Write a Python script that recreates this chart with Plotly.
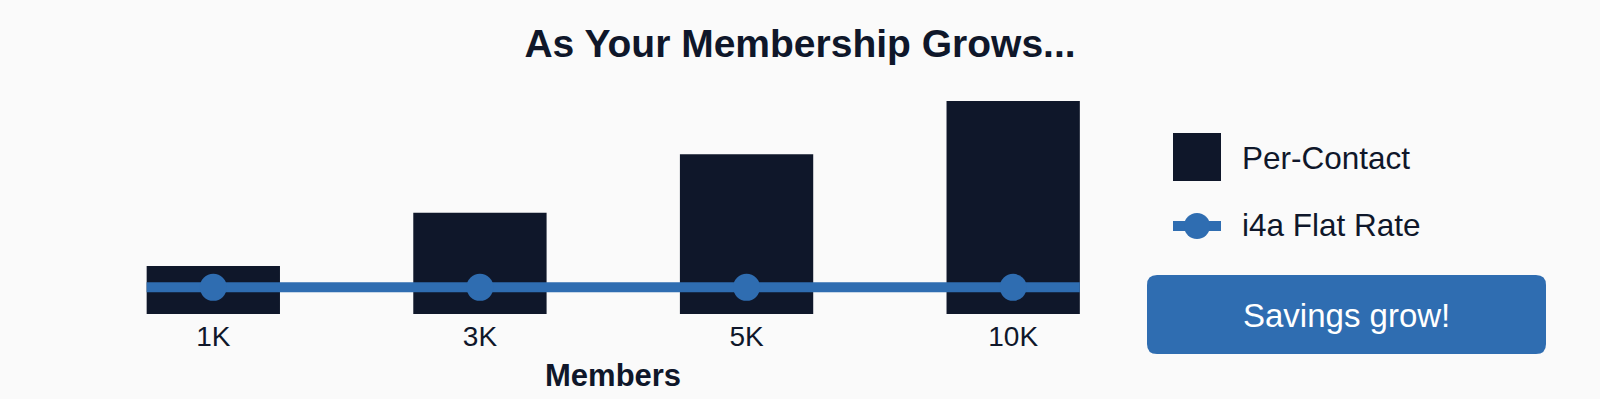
import plotly.graph_objects as go

# ---- data ----
categories = ["1K", "3K", "5K", "10K"]
per_contact = [450, 950, 1500, 2000]
flat_rate = [250, 250, 250, 250]
series_names = ["Per-Contact", "i4a Flat Rate"]
title_text = "As Your Membership Grows..."
x_title = "Members"
callout_text = "Savings grow!"

# ---- style ----
W, H = 1600, 399
NAVY = "#0f172a"
BLUE = "#2f6db1"
BG = "#fafafa"
FONT = "Liberation Sans, Arial, Helvetica, sans-serif"
BAR_W = 0.5


def px(x):
    return x / W


def py(y):
    return (H - y) / H


idx = list(range(len(categories)))

fig = go.Figure()
fig.add_trace(go.Bar(
    x=idx, y=per_contact, name=series_names[0], width=BAR_W,
    marker=dict(color=NAVY, line=dict(width=0)), showlegend=False,
))

# flat-rate line extended to the outer bar edges, markers on categories
line_x = [idx[0] - BAR_W / 2] + idx + [idx[-1] + BAR_W / 2]
line_y = [flat_rate[0]] + flat_rate + [flat_rate[-1]]
sizes = [0] + [27] * len(idx) + [0]
fig.add_trace(go.Scatter(
    x=line_x, y=line_y, name=series_names[1], mode="lines+markers",
    opacity=1,
    line=dict(color=BLUE, width=10),
    marker=dict(color=BLUE, size=sizes, opacity=1, line=dict(width=0, color=BLUE)),
    showlegend=False,
))

shapes = []
annotations = []

# legend: Per-Contact square
shapes.append(dict(type="rect", xref="paper", yref="paper",
                   x0=px(1173), x1=px(1221), y0=py(181), y1=py(133),
                   fillcolor=NAVY, line=dict(width=0), layer="above"))
annotations.append(dict(xref="paper", yref="paper", x=px(1240), y=py(158),
                        xanchor="left", yanchor="middle", showarrow=False,
                        text=series_names[0], font=dict(size=31.5, color=NAVY, family=FONT)))
# legend: flat rate line + marker
shapes.append(dict(type="rect", xref="paper", yref="paper",
                   x0=px(1173), x1=px(1221), y0=py(231), y1=py(221),
                   fillcolor=BLUE, line=dict(width=0), layer="above"))
shapes.append(dict(type="circle", xref="paper", yref="paper",
                   x0=px(1184), x1=px(1210), y0=py(239), y1=py(213),
                   fillcolor=BLUE, line=dict(width=0), layer="above"))
annotations.append(dict(xref="paper", yref="paper", x=px(1240), y=py(225),
                        xanchor="left", yanchor="middle", showarrow=False,
                        text=series_names[1], font=dict(size=31.5, color=NAVY, family=FONT)))

# callout button with rounded corners
bx0, bx1, by0, by1, r = 1147, 1546, 275, 354, 10
path = (
    f"M {px(bx0 + r)} {py(by0)} L {px(bx1 - r)} {py(by0)} "
    f"Q {px(bx1)} {py(by0)} {px(bx1)} {py(by0 + r)} "
    f"L {px(bx1)} {py(by1 - r)} Q {px(bx1)} {py(by1)} {px(bx1 - r)} {py(by1)} "
    f"L {px(bx0 + r)} {py(by1)} Q {px(bx0)} {py(by1)} {px(bx0)} {py(by1 - r)} "
    f"L {px(bx0)} {py(by0 + r)} Q {px(bx0)} {py(by0)} {px(bx0 + r)} {py(by0)} Z"
)
shapes.append(dict(type="path", xref="paper", yref="paper", path=path,
                   fillcolor=BLUE, line=dict(width=0), layer="above"))
annotations.append(dict(xref="paper", yref="paper", x=px((bx0 + bx1) / 2), y=py(315),
                        xanchor="center", yanchor="middle", showarrow=False,
                        text=callout_text, font=dict(size=33, color="white", family=FONT)))

# x axis title
annotations.append(dict(xref="paper", yref="paper", x=px(613), y=py(375),
                        xanchor="center", yanchor="middle", showarrow=False,
                        text=f"<b>{x_title}</b>", font=dict(size=31, color=NAVY, family=FONT)))

fig.update_layout(
    width=W, height=H,
    margin=dict(l=0, r=0, t=0, b=0),
    paper_bgcolor=BG, plot_bgcolor=BG,
    font=dict(family=FONT, color=NAVY),
    title=dict(text=f"<b>{title_text}</b>", x=0.5, xanchor="center",
               y=py(43), yanchor="middle", yref="container",
               font=dict(size=39, color=NAVY, family=FONT)),
    xaxis=dict(domain=[px(80), px(1146.5)], range=[-0.5, 3.5],
               tickmode="array", tickvals=idx, ticktext=categories,
               showgrid=False, zeroline=False, showline=False, ticks="",
               ticklabelstandoff=3,
               tickfont=dict(size=28, color=NAVY, family=FONT)),
    yaxis=dict(domain=[py(314), py(90.35)], range=[0, 2100],
               visible=False, showgrid=False, zeroline=False),
    shapes=shapes, annotations=annotations,
    showlegend=False,
)

fig.write_html("out.html", config={"displayModeBar": False},
               post_script="document.body.style.margin='0';")
